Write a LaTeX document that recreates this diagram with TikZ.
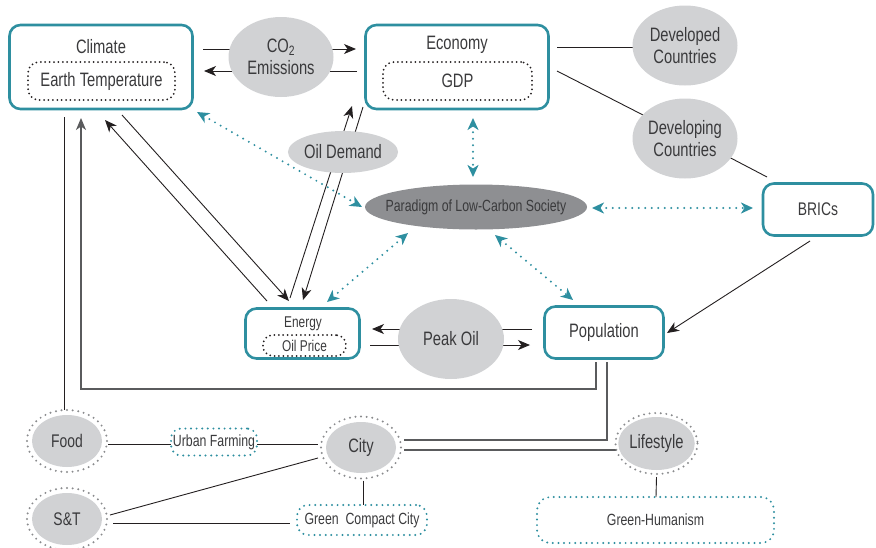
\documentclass[tikz,border=0pt]{standalone}
\usepackage{fontspec}
\setmainfont{Liberation Sans}[FakeStretch=0.76]
\usetikzlibrary{arrows.meta,shapes.geometric,calc}
\definecolor{tealc}{HTML}{2E8FA0}
\definecolor{lgray}{HTML}{D1D2D4}
\definecolor{dgray}{HTML}{8E8F92}
\definecolor{txtc}{HTML}{3A3A3C}
\definecolor{linec}{HTML}{231F20}
\definecolor{glinec}{HTML}{5A5B5D}
\definecolor{dotgray}{HTML}{8A8B8D}
\pgfdeclarelayer{bg}
\pgfsetlayers{bg,main}
\begin{document}
\begin{tikzpicture}[x=1pt,y=-1pt,
  every node/.style={text=txtc, inner sep=0pt, align=center},
  fbig/.style={font=\fontsize{19.4}{22}\selectfont},
  fmid/.style={font=\fontsize{18.3}{21}\selectfont},
  fsmall/.style={font=\fontsize{16.2}{18}\selectfont},
  bigbox/.style={rectangle, draw=tealc, line width=2.6pt, rounded corners=11pt},
  innerdot/.style={rectangle, draw=linec, line width=2pt, dash pattern=on 0pt off 4.4pt, line cap=round, rounded corners=11pt},
  tealdotbox/.style={rectangle, draw=tealc, line width=2.2pt, dash pattern=on 0pt off 5.6pt, line cap=round, rounded corners=11pt},
  cloud/.style={ellipse, fill=lgray},
  grayring/.style={draw=dotgray, line width=2.2pt, dash pattern=on 0pt off 5.6pt, line cap=round},
  blk/.style={draw=linec, line width=0.9pt},
  gry/.style={draw=glinec, line width=1.1pt},
  arr/.style={-{Stealth[length=12pt,width=10pt,inset=3.5pt]}},
  tealarr/.style={draw=tealc, line width=2.2pt, dash pattern=on 0pt off 6.5pt, line cap=round,
     {Stealth[length=12pt,width=11pt,inset=3.5pt,fill=tealc]}-{Stealth[length=12pt,width=11pt,inset=3.5pt,fill=tealc]}}
]
\useasboundingbox (0,0) rectangle (876,547);

% --- main boxes
\node[bigbox, minimum width=183pt, minimum height=84pt] (clim) at (101,67) {};
\node[fbig] (climt) at (101,47) {Climate};
\node[innerdot, minimum width=147pt, minimum height=38pt, fbig] (temp) at (101.5,81) {Earth Temperature};

\node[bigbox, minimum width=183pt, minimum height=84pt] (econ) at (457,67) {};
\node[fbig] (econt) at (457,45) {Economy};
\node[innerdot, minimum width=149pt, minimum height=38pt, fbig] (gdp) at (457.5,81) {GDP};

\node[bigbox, minimum width=114pt, minimum height=50pt] (energy) at (302.5,333.5) {};
\node[font=\fontsize{15.6}{18}\selectfont] (energyt) at (303,324) {Energy};
\node[innerdot, rounded corners=10pt, minimum width=83pt, minimum height=21pt, font=\fontsize{15.6}{18}\selectfont] (oilp) at (304.5,345.5) {Oil Price};

\node[bigbox, minimum width=119pt, minimum height=52pt, fbig] (pop) at (604,332.5) {Population};
\node[bigbox, minimum width=110pt, minimum height=52pt, fmid] (brics) at (818,209.5) {BRICs};

% --- ellipses
\node[cloud, minimum width=105pt, minimum height=80pt, fbig] (co2) at (281,57) {CO\textsubscript{2}\\Emissions};
\node[cloud, minimum width=105pt, minimum height=80pt, fbig] (dev1) at (685,45.5) {Developed\\Countries};
\node[cloud, minimum width=105pt, minimum height=80pt, fbig] (dev2) at (685,138.5) {Developing\\Countries};
\node[cloud, minimum width=106pt, minimum height=42pt, fbig] (oild) at (343,152) {Oil Demand};
\node[ellipse, fill=dgray, minimum width=222pt, minimum height=45pt, fsmall] (para) at (476,207) {\makebox[0pt]{Paradigm of Low-Carbon Society}};
\node[cloud, minimum width=106pt, minimum height=80pt, fbig] (peak) at (451,339) {Peak Oil};

% --- bottom nodes
\node[cloud, minimum width=70pt, minimum height=52pt, fmid] (food) at (67,441) {Food};
\draw[grayring] (food) ellipse [x radius=40, y radius=31];
\node[cloud, minimum width=70pt, minimum height=52pt, fmid] (st) at (67,519) {S\&T};
\draw[grayring] (st) ellipse [x radius=40, y radius=31];
\node[cloud, minimum width=70pt, minimum height=51pt, fbig] (city) at (361,447.5) {City};
\draw[grayring] (city) ellipse [x radius=40, y radius=31];
\node[cloud, minimum width=71pt, minimum height=53pt, fbig] (life) at (656.5,443.5) {Lifestyle};
\draw[grayring] (life) ellipse [x radius=41, y radius=30.5];

\node[tealdotbox, rounded corners=10pt, minimum width=86pt, minimum height=27pt, fsmall] (uf) at (214,442) {Urban Farming};
\node[tealdotbox, minimum width=130pt, minimum height=30pt, fsmall] (gcc) at (362,520) {Green~~Compact City};
\node[tealdotbox, rounded corners=13pt, minimum width=237pt, minimum height=46pt, fsmall] (gh) at (655.5,520) {Green-Humanism};

% --- connectors
\begin{pgfonlayer}{bg}
% CO2
\draw[blk, arr] ($(clim)+(102,-18)$) -- ($(econ)+(-101,-18)$);
\draw[blk, arr] ($(econ)+(-100,4)$) -- ($(clim)+(103,4)$);
% economy to countries
\draw[blk] ($(econ)+(100,-20)$) -- ($(dev1)+(-45,1.5)$);
\draw[blk] ($(econ)+(100,4)$) -- ($(dev2)+(-40,-22.5)$);
\draw[blk] ($(dev2)+(40,16.5)$) -- ($(brics)+(-51,-32.5)$);
\draw[blk, arr] ($(brics)+(-8,31.5)$) -- ($(pop)+(63,0.5)$);
% climate - energy
\draw[blk, arr] ($(clim)+(21,48)$) -- ($(energy)+(-13.5,-32.5)$);
\draw[blk, arr] ($(energy)+(-35.5,-32.5)$) -- ($(clim)+(4,53)$);
% energy - economy
\draw[blk, arr] ($(energy)+(-12.5,-35.5)$) -- ($(econ)+(-105,39)$);
\draw[blk, arr] ($(econ)+(-94,40)$) -- ($(energy)+(0.5,-33.5)$);
% peak oil
\draw[blk, arr] ($(pop)+(-72,-3.5)$) -- ($(energy)+(69.5,-4.5)$);
\draw[blk, arr] ($(energy)+(67.5,11.5)$) -- ($(pop)+(-74,12.5)$);
% climate - food
\draw[blk] ($(clim)+(-37,50)$) -- ($(food)+(-3,-31)$);
% population feedback to climate
\draw[gry, arr] ($(pop)+(-8,29.5)$) |- ($(clim)+(-20,322)$) -- ($(clim)+(-20,51)$);
% population - city - lifestyle
\draw[gry] ($(pop)+(3,29.5)$) |- ($(city)+(43,-7.5)$);
\draw[gry] ($(city)+(43,2.5)$) -- ($(life)+(-41,6.5)$);
% bottom
\draw[blk] ($(food)+(41,3)$) -- ($(uf)+(-43,2)$);
\draw[blk] ($(uf)+(43,2)$) -- ($(city)+(-43,-3.5)$);
\draw[blk] ($(st)+(43,-4)$) -- ($(city)+(-43,10.5)$);
\draw[blk] ($(st)+(46,4)$) -- ($(gcc)+(-72,3)$);
\draw[blk] ($(city)+(2,33)$) -- ($(gcc)+(1,-15)$);
\draw[blk] ($(life)+(0,33.5)$) -- ($(gh)+(0.5,-23)$);
\end{pgfonlayer}

% teal dotted arrows
\draw[tealarr] ($(clim)+(96,45)$) -- ($(para)+(-114,0)$);
\draw[tealarr] ($(para)+(-68,26)$) -- ($(energy)+(24.5,-31.5)$);
\draw[tealarr] ($(econ)+(16,51)$) -- ($(para)+(-3,-30)$);
\draw[tealarr] ($(para)+(116,1)$) -- ($(brics)+(-65,-1.5)$);
\draw[tealarr] ($(para)+(19,28)$) -- ($(pop)+(-31,-32.5)$);
\end{tikzpicture}
\end{document}
